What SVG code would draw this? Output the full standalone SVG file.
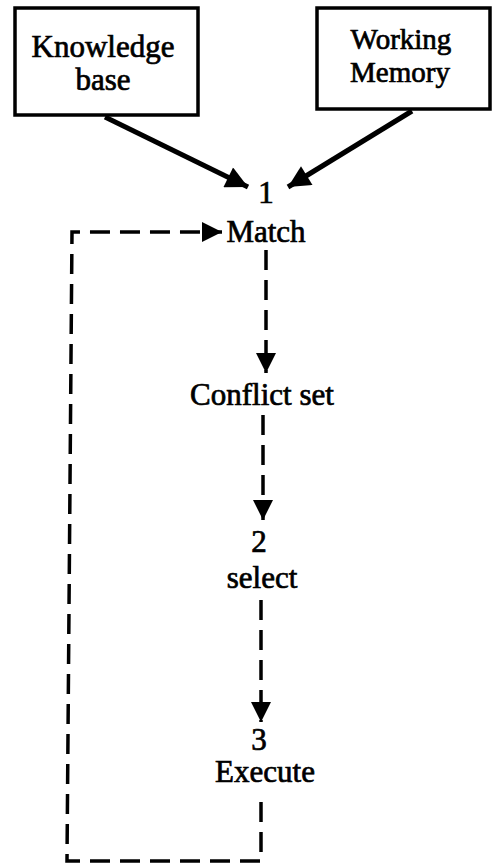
<svg xmlns="http://www.w3.org/2000/svg" width="492" height="864" viewBox="0 0 492 864">
  <style>
    .t { font-family: "Liberation Serif", "Times New Roman", serif; font-size: 31px; fill: #000; stroke: #000; stroke-width: 0.7; text-anchor: middle; }
    .wm { font-size: 29px; }
    .box { fill: #fff; stroke: #000; stroke-width: 3.5; }
    .solid { fill: none; stroke: #000; stroke-width: 5; }
    .dash { fill: none; stroke: #000; stroke-width: 3.5; stroke-dasharray: 20 10; }
  </style>
  <defs>
    <marker id="head" viewBox="0 0 10 10" refX="10" refY="5" markerUnits="userSpaceOnUse" markerWidth="26" markerHeight="22" orient="auto">
      <path d="M0,0 L10,5 L0,10 Z" fill="#000"/>
    </marker>
    <marker id="headS" viewBox="0 0 10 10" refX="10" refY="5" markerUnits="userSpaceOnUse" markerWidth="22" markerHeight="20" orient="auto">
      <path d="M0,0 L10,5 L0,10 Z" fill="#000"/>
    </marker>
  </defs>

  <rect width="492" height="864" fill="#fff"/>

  <g id="connectors">
    <line class="solid" x1="105" y1="117" x2="248" y2="187" marker-end="url(#head)"/>
    <line class="solid" x1="412" y1="111" x2="288" y2="187" marker-end="url(#head)"/>
    <line class="dash" x1="266" y1="250" x2="266" y2="373" marker-end="url(#headS)"/>
    <line class="dash" x1="263" y1="415" x2="263" y2="520" marker-end="url(#headS)"/>
    <line class="dash" x1="261" y1="600" x2="261" y2="722" marker-end="url(#headS)"/>
    <path class="dash" d="M261,802 L261,861 L67,861 L72,232 L222,232" marker-end="url(#headS)"/>
  </g>

  <g id="knowledge-base">
    <rect class="box" x="15" y="8" width="183" height="107"/>
    <text class="t" x="103" y="57">Knowledge</text>
    <text class="t" x="103" y="90">base</text>
  </g>

  <g id="working-memory">
    <rect class="box" x="317" y="8" width="173" height="101"/>
    <text class="t wm" x="401" y="49">Working</text>
    <text class="t wm" x="400" y="82">Memory</text>
  </g>

  <g id="match">
    <text class="t" x="266" y="203">1</text>
    <text class="t" x="266" y="242">Match</text>
  </g>

  <g id="conflict-set">
    <text class="t" x="262" y="405">Conflict set</text>
  </g>

  <g id="select">
    <text class="t" x="259" y="552">2</text>
    <text class="t" x="262" y="588">select</text>
  </g>

  <g id="execute">
    <text class="t" x="259" y="750">3</text>
    <text class="t" x="265" y="782">Execute</text>
  </g>
</svg>
